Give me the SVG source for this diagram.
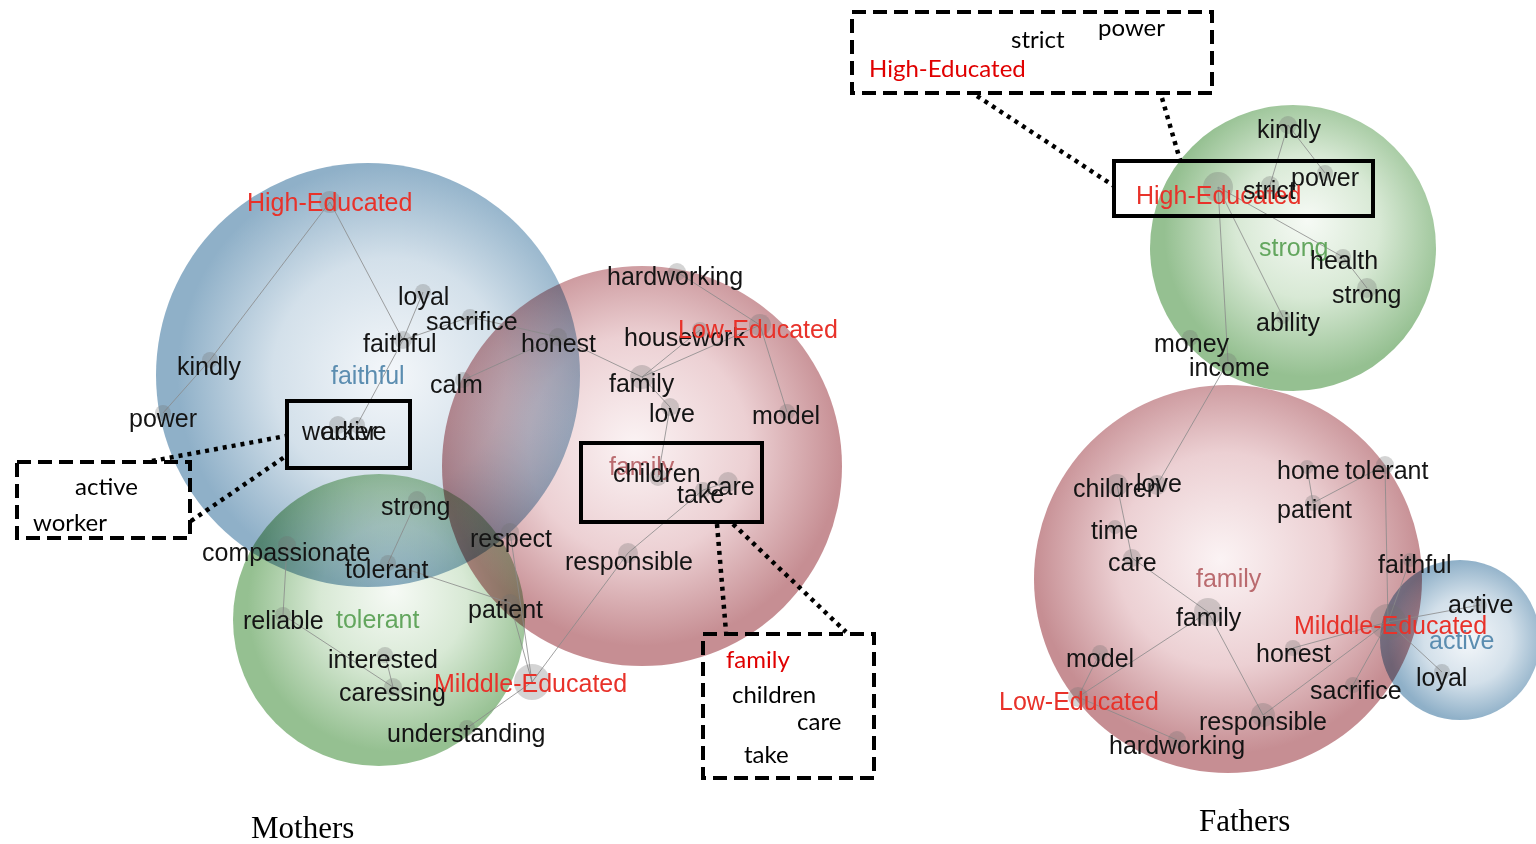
<svg xmlns="http://www.w3.org/2000/svg" width="1536" height="844" viewBox="0 0 1536 844">
<defs>
<radialGradient id="gBlue" cx="0.55" cy="0.5" r="0.5" fx="0.55" fy="0.5">
<stop offset="0" stop-color="#f4f7fa"/><stop offset="0.55" stop-color="#d3e0ea"/><stop offset="1" stop-color="#8fb0c8"/></radialGradient>
<radialGradient id="gRed" cx="0.5" cy="0.45" r="0.5" fx="0.48" fy="0.45">
<stop offset="0" stop-color="#fbf3f4"/><stop offset="0.55" stop-color="#ecd0d3"/><stop offset="1" stop-color="#c68e93"/></radialGradient>
<radialGradient id="gGreen" cx="0.55" cy="0.45" r="0.5" fx="0.55" fy="0.4">
<stop offset="0" stop-color="#f6faf5"/><stop offset="0.5" stop-color="#d8e9d5"/><stop offset="1" stop-color="#95c091"/></radialGradient>
</defs>
<style>
.bub{mix-blend-mode:multiply}
.lbl{font-family:"Liberation Sans",Arial,sans-serif;font-size:25px;fill:#141414}
.red{fill:#e8322a}
.blu{fill:#5b8db0}
.grn{fill:#63a65e}
.fam{fill:#b0555a;opacity:0.85}
.dot{fill:#6f6f6f;fill-opacity:0.3}
.edge line{stroke:#8a8a8a;stroke-width:1;stroke-opacity:0.8}
.solid{fill:none;stroke:#000;stroke-width:4}
.dash{fill:none;stroke:#000;stroke-width:4;stroke-dasharray:14 7}
.dotted{stroke:#000;stroke-width:4.5;stroke-dasharray:4 5;fill:none}
.call{font-family:Lato,"Liberation Sans",sans-serif;font-size:24px;fill:#000}
.callr{fill:#e00000}
.cap{font-family:"Liberation Serif","Times New Roman",serif;font-size:31px;fill:#000}
</style>
<rect width="1536" height="844" fill="#fff"/>

<g id="bubbles">
<circle class="bub" cx="368" cy="375" r="212" fill="url(#gBlue)"/>
<circle class="bub" cx="642" cy="466" r="200" fill="url(#gRed)"/>
<circle class="bub" cx="379" cy="620" r="146" fill="url(#gGreen)"/>
<circle class="bub" cx="1293" cy="248" r="143" fill="url(#gGreen)"/>
<circle class="bub" cx="1228" cy="579" r="194" fill="url(#gRed)"/>
<circle class="bub" cx="1460" cy="640" r="80" fill="url(#gBlue)"/>
</g>

<g id="connectors" class="edge">
<line x1="330" y1="202" x2="210" y2="360"/>
<line x1="210" y1="360" x2="163" y2="413"/>
<line x1="330" y1="202" x2="403" y2="340"/>
<line x1="403" y1="340" x2="423" y2="292"/>
<line x1="403" y1="340" x2="470" y2="317"/>
<line x1="470" y1="317" x2="558" y2="337"/>
<line x1="403" y1="340" x2="357" y2="425"/>
<line x1="558" y1="337" x2="463" y2="380"/>
<line x1="558" y1="337" x2="642" y2="377"/>
<line x1="677" y1="272" x2="760" y2="325"/>
<line x1="760" y1="325" x2="787" y2="412"/>
<line x1="760" y1="325" x2="642" y2="377"/>
<line x1="700" y1="330" x2="642" y2="377"/>
<line x1="642" y1="377" x2="670" y2="407"/>
<line x1="670" y1="407" x2="658" y2="477"/>
<line x1="728" y1="482" x2="703" y2="490"/>
<line x1="703" y1="490" x2="628" y2="553"/>
<line x1="628" y1="553" x2="532" y2="682"/>
<line x1="417" y1="500" x2="388" y2="563"/>
<line x1="388" y1="563" x2="510" y2="603"/>
<line x1="510" y1="532" x2="532" y2="682"/>
<line x1="510" y1="603" x2="532" y2="682"/>
<line x1="287" y1="545" x2="283" y2="615"/>
<line x1="283" y1="615" x2="393" y2="687"/>
<line x1="385" y1="655" x2="393" y2="687"/>
<line x1="532" y1="682" x2="467" y2="728"/>
<line x1="1288" y1="125" x2="1270" y2="185"/>
<line x1="1288" y1="125" x2="1325" y2="173"/>
<line x1="1218" y1="187" x2="1343" y2="257"/>
<line x1="1343" y1="257" x2="1367" y2="288"/>
<line x1="1218" y1="187" x2="1283" y2="317"/>
<line x1="1218" y1="187" x2="1228" y2="362"/>
<line x1="1228" y1="362" x2="1157" y2="485"/>
<line x1="1117" y1="485" x2="1132" y2="558"/>
<line x1="1132" y1="558" x2="1208" y2="612"/>
<line x1="1208" y1="612" x2="1078" y2="697"/>
<line x1="1208" y1="612" x2="1263" y2="715"/>
<line x1="1078" y1="697" x2="1100" y2="653"/>
<line x1="1078" y1="697" x2="1177" y2="740"/>
<line x1="1263" y1="715" x2="1388" y2="622"/>
<line x1="1353" y1="685" x2="1388" y2="622"/>
<line x1="1293" y1="648" x2="1388" y2="622"/>
<line x1="1388" y1="622" x2="1410" y2="560"/>
<line x1="1388" y1="622" x2="1385" y2="465"/>
<line x1="1388" y1="622" x2="1480" y2="605"/>
<line x1="1388" y1="622" x2="1442" y2="672"/>
<line x1="1307" y1="467" x2="1313" y2="503"/>
<line x1="1313" y1="503" x2="1385" y2="465"/>
</g>

<g id="m-high-educated"><circle class="dot" cx="330" cy="202" r="11"/><text class="lbl red" x="247" y="211">High-Educated</text></g>
<g id="m-loyal"><circle class="dot" cx="423" cy="292" r="8"/><text class="lbl" x="398" y="305">loyal</text></g>
<g id="m-sacrifice"><circle class="dot" cx="470" cy="317" r="8"/><text class="lbl" x="426" y="330">sacrifice</text></g>
<g id="m-faithful"><circle class="dot" cx="403" cy="340" r="9"/><text class="lbl" x="363" y="352">faithful</text></g>
<g id="m-faithful-cluster"><text class="lbl blu" x="331" y="384">faithful</text></g>
<g id="m-honest"><circle class="dot" cx="558" cy="337" r="9"/><text class="lbl" x="521" y="352">honest</text></g>
<g id="m-kindly"><circle class="dot" cx="210" cy="360" r="8"/><text class="lbl" x="177" y="375">kindly</text></g>
<g id="m-calm"><circle class="dot" cx="463" cy="380" r="8"/><text class="lbl" x="430" y="393">calm</text></g>
<g id="m-power"><circle class="dot" cx="163" cy="413" r="8"/><text class="lbl" x="129" y="427">power</text></g>
<g id="m-worker"><circle class="dot" cx="338" cy="425" r="9"/><text class="lbl" x="302" y="440">worker</text></g>
<g id="m-active"><circle class="dot" cx="357" cy="425" r="8"/><text class="lbl" x="321" y="440">active</text></g>
<g id="m-hardworking"><circle class="dot" cx="677" cy="272" r="9"/><text class="lbl" x="607" y="285">hardworking</text></g>
<g id="m-housework"><circle class="dot" cx="700" cy="330" r="8"/><text class="lbl" x="624" y="346">housework</text></g>
<g id="m-low-educated"><circle class="dot" cx="760" cy="325" r="11"/><text class="lbl red" x="678" y="338">Low-Educated</text></g>
<g id="m-family"><circle class="dot" cx="642" cy="377" r="12"/><text class="lbl" x="609" y="392">family</text></g>
<g id="m-love"><circle class="dot" cx="670" cy="407" r="9"/><text class="lbl" x="649" y="422">love</text></g>
<g id="m-model"><circle class="dot" cx="787" cy="412" r="8"/><text class="lbl" x="752" y="424">model</text></g>
<g id="m-family-cluster"><text class="lbl fam" x="609" y="475">family</text></g>
<g id="m-children"><circle class="dot" cx="658" cy="477" r="9"/><text class="lbl" x="613" y="482">children</text></g>
<g id="m-care"><circle class="dot" cx="728" cy="482" r="10"/><text class="lbl" x="706" y="495">care</text></g>
<g id="m-take"><circle class="dot" cx="703" cy="490" r="8"/><text class="lbl" x="677" y="503">take</text></g>
<g id="m-respect"><circle class="dot" cx="510" cy="532" r="9"/><text class="lbl" x="470" y="547">respect</text></g>
<g id="m-responsible"><circle class="dot" cx="628" cy="553" r="10"/><text class="lbl" x="565" y="570">responsible</text></g>
<g id="m-strong"><circle class="dot" cx="417" cy="500" r="9"/><text class="lbl" x="381" y="515">strong</text></g>
<g id="m-compassionate"><circle class="dot" cx="287" cy="545" r="9"/><text class="lbl" x="202" y="561">compassionate</text></g>
<g id="m-tolerant"><circle class="dot" cx="388" cy="563" r="8"/><text class="lbl" x="345" y="578">tolerant</text></g>
<g id="m-reliable"><circle class="dot" cx="283" cy="615" r="8"/><text class="lbl" x="243" y="629">reliable</text></g>
<g id="m-tolerant-cluster"><text class="lbl grn" x="336" y="628">tolerant</text></g>
<g id="m-patient"><circle class="dot" cx="510" cy="603" r="9"/><text class="lbl" x="468" y="618">patient</text></g>
<g id="m-interested"><circle class="dot" cx="385" cy="655" r="8"/><text class="lbl" x="328" y="668">interested</text></g>
<g id="m-caressing"><circle class="dot" cx="393" cy="687" r="9"/><text class="lbl" x="339" y="701">caressing</text></g>
<g id="m-middle-educated"><circle class="dot" cx="532" cy="682" r="18"/><text class="lbl red" x="434" y="692">Milddle-Educated</text></g>
<g id="m-understanding"><circle class="dot" cx="467" cy="728" r="8"/><text class="lbl" x="387" y="742">understanding</text></g>

<g id="f-kindly"><circle class="dot" cx="1288" cy="125" r="9"/><text class="lbl" x="1257" y="138">kindly</text></g>
<g id="f-power"><circle class="dot" cx="1325" cy="173" r="8"/><text class="lbl" x="1291" y="186">power</text></g>
<g id="f-high-educated"><circle class="dot" cx="1218" cy="187" r="15"/><text class="lbl red" x="1136" y="204">High-Educated</text></g>
<g id="f-strict"><circle class="dot" cx="1270" cy="185" r="9"/><text class="lbl" x="1243" y="199">strict</text></g>
<g id="f-strong-cluster"><text class="lbl grn" x="1259" y="256">strong</text></g>
<g id="f-health"><circle class="dot" cx="1343" cy="257" r="8"/><text class="lbl" x="1310" y="269">health</text></g>
<g id="f-strong"><circle class="dot" cx="1367" cy="288" r="10"/><text class="lbl" x="1332" y="303">strong</text></g>
<g id="f-ability"><circle class="dot" cx="1283" cy="317" r="7"/><text class="lbl" x="1256" y="331">ability</text></g>
<g id="f-money"><circle class="dot" cx="1190" cy="338" r="8"/><text class="lbl" x="1154" y="352">money</text></g>
<g id="f-income"><circle class="dot" cx="1228" cy="362" r="9"/><text class="lbl" x="1189" y="376">income</text></g>
<g id="f-children"><circle class="dot" cx="1117" cy="485" r="11"/><text class="lbl" x="1073" y="497">children</text></g>
<g id="f-love"><circle class="dot" cx="1157" cy="485" r="10"/><text class="lbl" x="1136" y="492">love</text></g>
<g id="f-time"><circle class="dot" cx="1115" cy="527" r="7"/><text class="lbl" x="1091" y="539">time</text></g>
<g id="f-care"><circle class="dot" cx="1132" cy="558" r="9"/><text class="lbl" x="1108" y="571">care</text></g>
<g id="f-family-cluster"><text class="lbl fam" x="1196" y="587">family</text></g>
<g id="f-family"><circle class="dot" cx="1208" cy="612" r="14"/><text class="lbl" x="1176" y="626">family</text></g>
<g id="f-home"><circle class="dot" cx="1307" cy="467" r="7"/><text class="lbl" x="1277" y="479">home</text></g>
<g id="f-tolerant"><circle class="dot" cx="1385" cy="465" r="9"/><text class="lbl" x="1345" y="479">tolerant</text></g>
<g id="f-patient"><circle class="dot" cx="1313" cy="503" r="8"/><text class="lbl" x="1277" y="518">patient</text></g>
<g id="f-faithful"><circle class="dot" cx="1410" cy="560" r="7"/><text class="lbl" x="1378" y="573">faithful</text></g>
<g id="f-middle-educated"><circle class="dot" cx="1388" cy="622" r="18"/><text class="lbl red" x="1294" y="634">Milddle-Educated</text></g>
<g id="f-active"><circle class="dot" cx="1480" cy="605" r="7"/><text class="lbl" x="1448" y="613">active</text></g>
<g id="f-active-cluster"><text class="lbl blu" x="1429" y="649">active</text></g>
<g id="f-loyal"><circle class="dot" cx="1442" cy="672" r="8"/><text class="lbl" x="1416" y="686">loyal</text></g>
<g id="f-honest"><circle class="dot" cx="1293" cy="648" r="8"/><text class="lbl" x="1256" y="662">honest</text></g>
<g id="f-model"><circle class="dot" cx="1100" cy="653" r="8"/><text class="lbl" x="1066" y="667">model</text></g>
<g id="f-low-educated"><circle class="dot" cx="1078" cy="697" r="10"/><text class="lbl red" x="999" y="710">Low-Educated</text></g>
<g id="f-sacrifice"><circle class="dot" cx="1353" cy="685" r="8"/><text class="lbl" x="1310" y="699">sacrifice</text></g>
<g id="f-responsible"><circle class="dot" cx="1263" cy="715" r="12"/><text class="lbl" x="1199" y="730">responsible</text></g>
<g id="f-hardworking"><circle class="dot" cx="1177" cy="740" r="9"/><text class="lbl" x="1109" y="754">hardworking</text></g>

<g id="callout-lines">
<line class="dotted" x1="152" y1="461" x2="286" y2="436"/>
<line class="dotted" x1="191" y1="521" x2="286" y2="456"/>
<line class="dotted" x1="717" y1="524" x2="726" y2="632"/>
<line class="dotted" x1="733" y1="524" x2="846" y2="632"/>
<line class="dotted" x1="977" y1="96" x2="1114" y2="186"/>
<line class="dotted" x1="1162" y1="98" x2="1180" y2="160"/>
</g>

<g id="zoom-boxes">
<rect class="solid" x="287" y="401" width="123" height="67"/>
<rect class="solid" x="581" y="443" width="181" height="79"/>
<rect class="solid" x="1114" y="161" width="259" height="55"/>
</g>

<g id="callout-mothers-left">
<rect class="dash" x="17" y="462" width="173" height="76"/>
<text class="call" x="75" y="495">active</text>
<text class="call" x="33" y="531">worker</text>
</g>
<g id="callout-mothers-right">
<rect class="dash" x="703" y="634" width="171" height="144"/>
<text class="call callr" x="726" y="668">family</text>
<text class="call" x="732" y="703">children</text>
<text class="call" x="797" y="730">care</text>
<text class="call" x="744" y="763">take</text>
</g>
<g id="callout-fathers">
<rect class="dash" x="852" y="12" width="360" height="81"/>
<text class="call" x="1098" y="36">power</text>
<text class="call" x="1011" y="48">strict</text>
<text class="call callr" x="869" y="77">High-Educated</text>
</g>

<text class="cap" x="251" y="838">Mothers</text>
<text class="cap" x="1199" y="831">Fathers</text>
</svg>
